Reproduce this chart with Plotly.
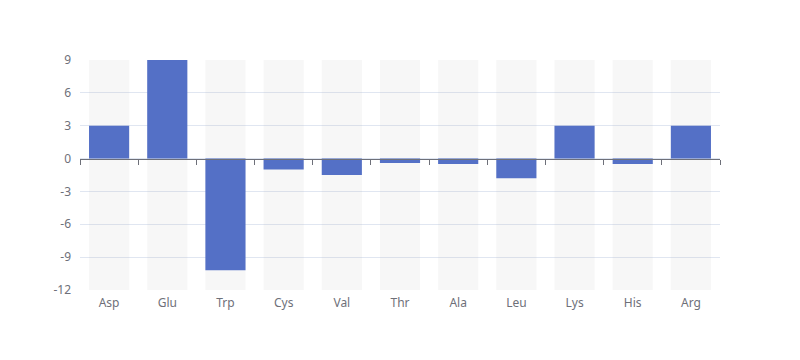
import plotly.graph_objects as go

categories = ["Asp", "Glu", "Trp", "Cys", "Val", "Thr", "Ala", "Leu", "Lys", "His", "Arg"]
values = [3, 9, -10.2, -1, -1.5, -0.4, -0.5, -1.8, 3, -0.5, 3]
y_ticks = [-12, -9, -6, -3, 0, 3, 6, 9]
y_tick_labels = ["-12", "-9", "-6", "-3", "0", "3", "6", "9"]
y_min, y_max = -12, 9

axis_grey = "#6e7079"
grid = "#e0e6f1"
font_family = "Noto Sans, DejaVu Sans, sans-serif"
x_range = [-0.5, len(categories) - 0.5]

fig = go.Figure()
# background bars
fig.add_trace(go.Bar(
    x=categories, y=[y_max - y_min] * len(categories), base=[y_min] * len(categories),
    marker=dict(color="rgba(180,180,180,0.1)", line=dict(width=0)),
    hoverinfo="skip", showlegend=False,
))
fig.add_trace(go.Bar(
    x=categories, y=values,
    marker=dict(color="#5470c6", line=dict(width=0)),
    showlegend=False,
))
# invisible trace for the zero axis
fig.add_trace(go.Scatter(x=categories, y=[0] * len(categories), xaxis="x2",
                         mode="lines", line=dict(width=0), opacity=0, hoverinfo="skip",
                         showlegend=False))

# page body has an 8px margin, so the figure is shifted by (8, 8)
fig.update_layout(
    width=784, height=344,
    margin=dict(l=72, r=72, t=52, b=62, autoexpand=False),
    paper_bgcolor="white", plot_bgcolor="white",
    barmode="overlay", bargap=0.31,
    font=dict(family=font_family, size=12, color=axis_grey),
    xaxis=dict(type="category", categoryarray=categories, range=x_range, showgrid=False,
               showline=False, ticks="", zeroline=False,
               tickfont=dict(size=12, color=axis_grey),
               ticklabelstandoff=4, automargin=False),
    xaxis2=dict(type="category", categoryarray=categories, overlaying="x", range=x_range,
                anchor="free", position=(0 - y_min) / (y_max - y_min),
                showline=True, linecolor=axis_grey, linewidth=1,
                ticks="outside", tickson="boundaries", ticklen=5, tickcolor=axis_grey,
                showticklabels=False, showgrid=False, zeroline=False, automargin=False),
    yaxis=dict(range=[y_min, y_max], tickvals=y_ticks, ticktext=y_tick_labels,
               showgrid=True, gridcolor=grid,
               gridwidth=1, zeroline=False, showline=False, ticks="",
               tickfont=dict(size=12, color=axis_grey), ticklabelstandoff=8,
               automargin=False),
)

fig.write_html("out.html")
